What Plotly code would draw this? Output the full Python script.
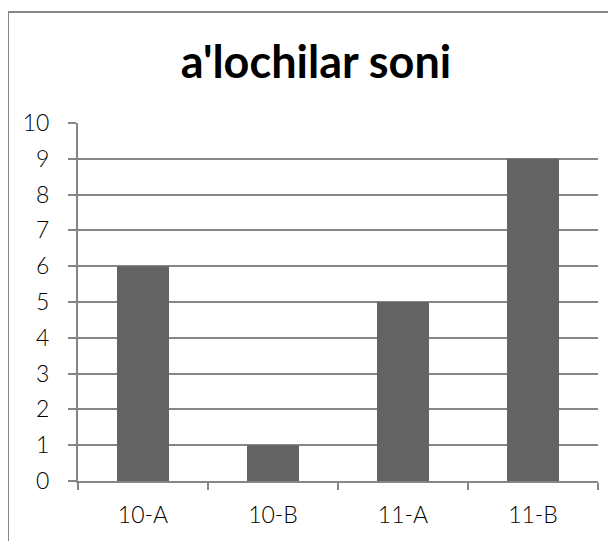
import plotly.graph_objects as go

categories = ["10-A", "10-B", "11-A", "11-B"]
values = [6, 1, 5, 9]
title_text = "a'lochilar soni"

# page has an 8px body margin; figure is drawn from (8, 8)
W, H = 608, 533
L, R, T, B = 70, 18, 115, 60
pw, ph = W - L - R, H - T - B

fig = go.Figure(go.Bar(x=categories, y=values, marker=dict(color="#636363", line=dict(width=0))))

def px_x(p):
    return (p - L) / pw

def px_y(p):
    return (H - B - p) / ph

FONT = "Lato, Open Sans, sans-serif"

fig.update_layout(
    width=W, height=H,
    margin=dict(l=L, r=R, t=T, b=B, autoexpand=False),
    paper_bgcolor="white", plot_bgcolor="white",
    bargap=0.6,
    showlegend=False,
    font=dict(family=FONT, color="black", size=23),
    title=dict(text="<b>" + title_text + "</b>", x=(316 - 8) / W, xanchor="center", xref="container",
               y=1 - (62 - 8) / H, yanchor="middle", font=dict(size=45, family=FONT, color="black")),
    xaxis=dict(showgrid=False, showline=True, linecolor="#868686", linewidth=2, automargin=False,
               ticks="outside", tickson="boundaries", ticklen=7, tickcolor="#868686", tickwidth=2,
               tickfont=dict(size=23, weight=300, color="black"), ticklabelstandoff=12),
    yaxis=dict(range=[0, 10], dtick=1, showgrid=True, gridcolor="#868686", gridwidth=2,
               showline=True, linecolor="#868686", linewidth=2, automargin=False,
               ticks="outside", ticklen=8, tickcolor="#868686", tickwidth=2,
               tickfont=dict(size=23, weight=300, color="black"), zeroline=False, ticklabelstandoff=14),
    shapes=[dict(type="rect", xref="paper", yref="paper",
                 x0=px_x(0), x1=px_x(640), y0=px_y(560), y1=px_y(4),
                 line=dict(color="#868686", width=2), fillcolor="rgba(0,0,0,0)", layer="below")],
)

fig.write_html("out.html")
